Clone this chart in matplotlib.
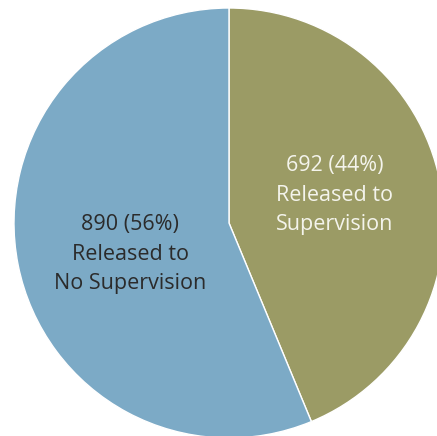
import matplotlib
matplotlib.use("Agg")
import matplotlib.pyplot as plt

categories = ["Released to\nSupervision", "Released to\nNo Supervision"]
counts = [692, 890]
colors = ["#9b9b65", "#7caac6"]
text_colors = ["#f4f4ec", "#2b2b2b"]

total = sum(counts)

fig = plt.figure(figsize=(4.37, 4.36), dpi=100)
ax = fig.add_axes([14 / 437, -2 / 436, 430 / 437, 430 / 436])
wedges, _ = ax.pie(counts, colors=colors, startangle=90, counterclock=False,
                   radius=1.0,
                   wedgeprops=dict(edgecolor="white", linewidth=1.0))
for w in wedges:
    w.set_clip_on(False)
ax.set_xlim(-1, 1)
ax.set_ylim(-1, 1)
ax.set_aspect("equal")
ax.axis("off")

label_pos = [(0.49, 0.13), (-0.46, -0.145)]
for name, n, col, (x, y) in zip(categories, counts, text_colors, label_pos):
    pct = round(100 * n / total)
    ax.text(x, y, f"{n} ({pct}%)\n{name}", ha="center", va="center",
            fontsize=15.5, color=col, family="Open Sans", linespacing=1.55)

fig.savefig("out.png", dpi=100)
